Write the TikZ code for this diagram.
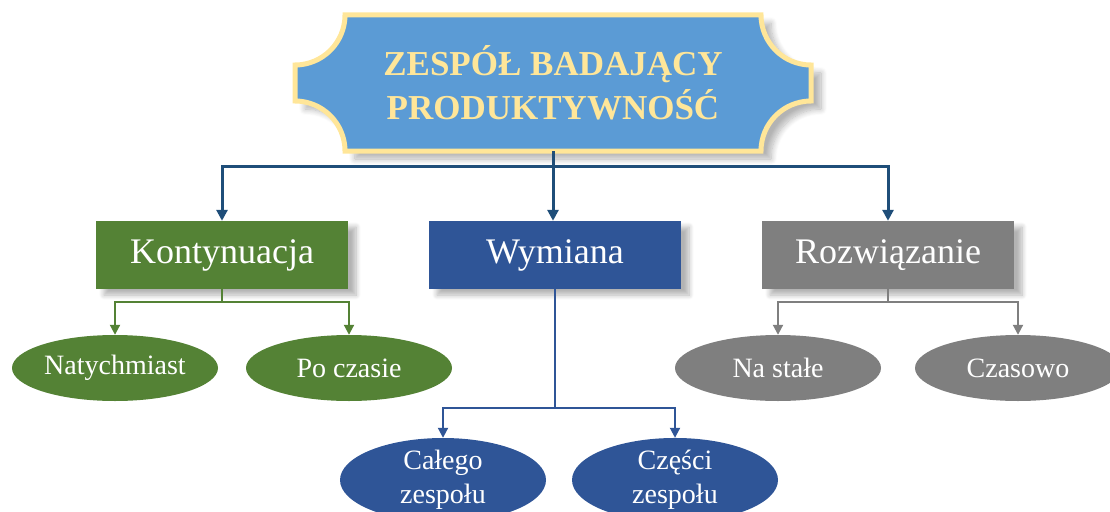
\documentclass[tikz,border=0pt]{standalone}
\usepackage{fontspec}
\setmainfont{Liberation Serif}
\usetikzlibrary{arrows.meta,shadows.blur,shapes.geometric}

\definecolor{plaqueblue}{HTML}{5B9BD5}
\definecolor{plaqueedge}{HTML}{FFE699}
\definecolor{navy}{HTML}{1F4E79}
\definecolor{leafgreen}{HTML}{548235}
\definecolor{deepblue}{HTML}{2F5597}
\definecolor{midgray}{HTML}{7F7F7F}

\tikzset{
  softshadow/.style={blur shadow={shadow xshift=8pt, shadow yshift=-6pt,
      shadow opacity=30, shadow blur steps=8, shadow blur radius=5pt}},
  catbox/.style={rectangle, minimum width=252pt, minimum height=68pt,
      inner sep=0pt, text=white, font=\fontsize{36}{40}\selectfont, softshadow},
  leaf/.style={ellipse, minimum width=206pt, minimum height=66pt,
      inner sep=0pt, text=white, font=\fontsize{28}{34}\selectfont, align=center},
  trunk/.style={draw=navy, line width=3pt, -{Triangle[length=11pt,width=11pt]}},
  branch/.style={line width=2pt, -{Triangle[length=10pt,width=10pt]}},
}

\begin{document}
\begin{tikzpicture}[x=1pt, y=-1pt]
  \clip (0,0) rectangle (1110,511);

  % title plaque with concave corners
  \path[fill=plaqueblue, draw=plaqueedge, line width=5pt,
        blur shadow={shadow xshift=10pt, shadow yshift=-8pt, shadow opacity=30,
                     shadow blur steps=10, shadow blur radius=6pt}]
    (345,15) -- (761,15) arc[start angle=180, end angle=270, radius=50pt]
    -- (811,101) arc[start angle=90, end angle=180, radius=50pt]
    -- (345,151) arc[start angle=0, end angle=90, radius=50pt]
    -- (295,65) arc[start angle=270, end angle=360, radius=50pt] -- cycle;
  \node[minimum width=516pt, minimum height=136pt, inner sep=0pt, align=center,
        text=plaqueedge, font=\bfseries\fontsize{35}{44}\selectfont]
    (title) at (553,83) {ZESPÓŁ BADAJĄCY\\PRODUKTYWNOŚĆ};

  % categories
  \node[catbox, fill=leafgreen] (kont) at (222,255) {Kontynuacja};
  \node[catbox, fill=deepblue]  (wym)  at (555,255) {Wymiana};
  \node[catbox, fill=midgray]   (roz)  at (888,255) {Rozwiązanie};

  % leaves
  \node[leaf, fill=leafgreen] (nat)  at (115,368) {Natychmiast};
  \node[leaf, fill=leafgreen] (poc)  at (349,368) {Po czasie};
  \node[leaf, fill=midgray]   (sta)  at (778,368) {Na stałe};
  \node[leaf, fill=midgray]   (cza)  at (1018,368) {Czasowo};
  \node[leaf, fill=deepblue]  (cal)  at (443,480) {Całego\\zespołu};
  \node[leaf, fill=deepblue]  (czes) at (675,480) {Części\\zespołu};

  % junctions
  \coordinate (hub) at (553,166);
  \coordinate (kj)  at (222,302);
  \coordinate (wj)  at (555,408);
  \coordinate (rj)  at (888,302);

  % main tree
  \draw[trunk] (title.south) -- (hub) -| (kont.north);
  \draw[trunk] (hub) -- (wym.north -| hub);
  \draw[trunk] (hub) -| (roz.north);

  % branches
  \draw[branch, draw=leafgreen] (kont.south) -- (kj) -| (nat.north);
  \draw[branch, draw=leafgreen] (kj) -| (poc.north);
  \draw[branch, draw=deepblue] (wym.south) -- (wj) -| (cal.north);
  \draw[branch, draw=deepblue] (wj) -| (czes.north);
  \draw[branch, draw=midgray] (roz.south) -- (rj) -| (sta.north);
  \draw[branch, draw=midgray] (rj) -| (cza.north);
\end{tikzpicture}
\end{document}
